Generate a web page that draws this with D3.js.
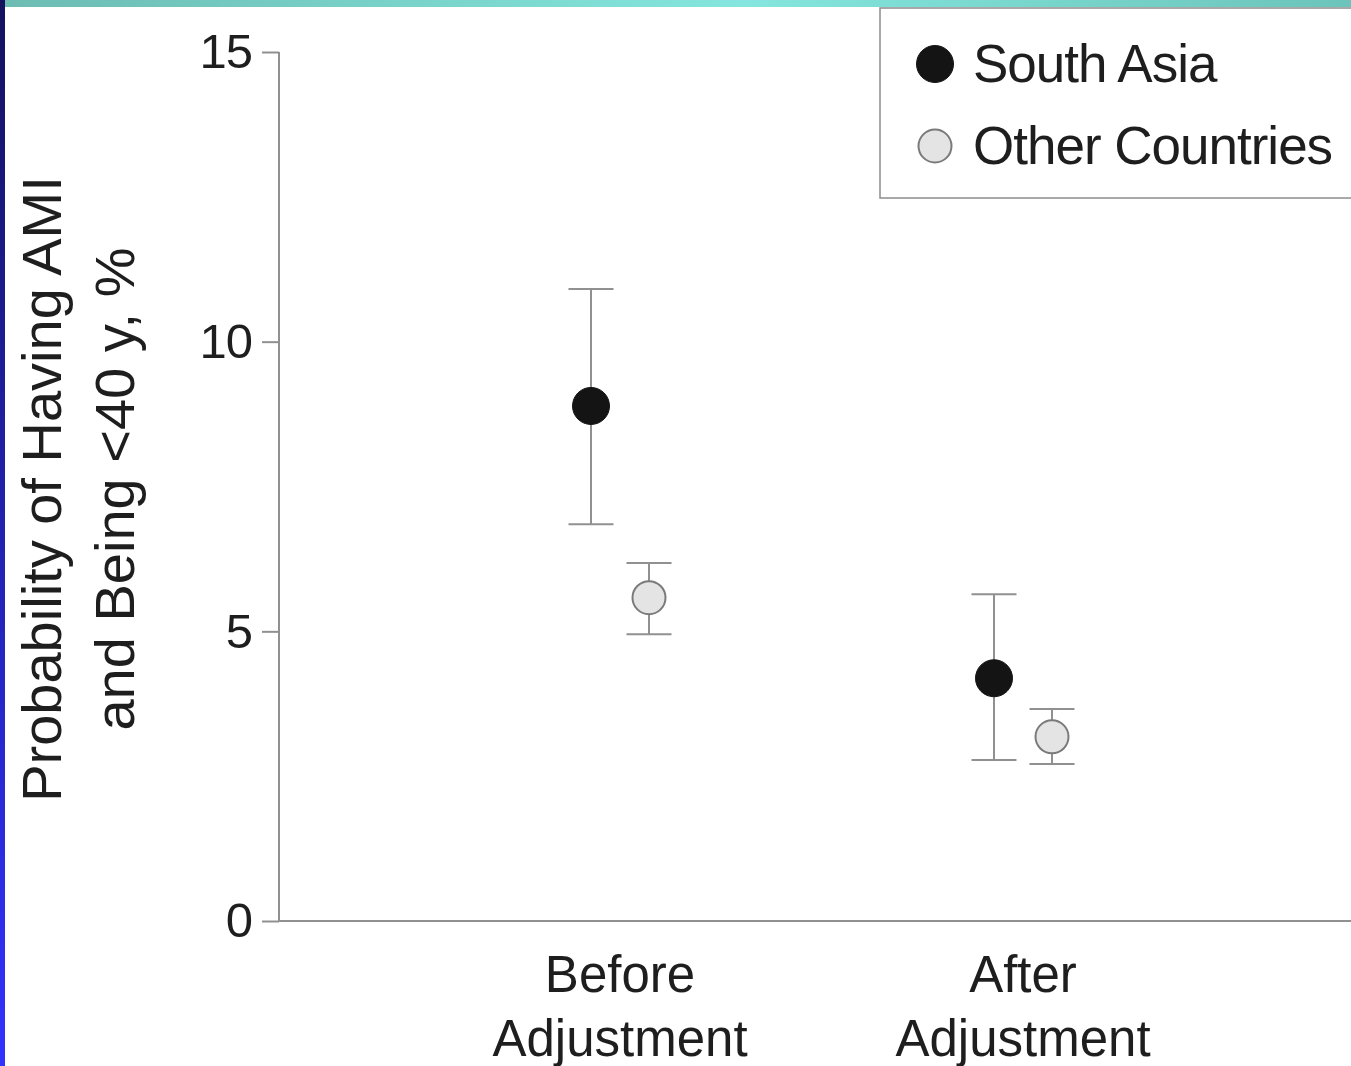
<!DOCTYPE html>
<html>
<head>
<meta charset="utf-8">
<script src="https://cdn.jsdelivr.net/npm/d3@7"></script>
<style>
  html, body { margin: 0; padding: 0; background: #fff; }
  svg { display: block; }
  text { font-family: "Liberation Sans", Arial, Helvetica, sans-serif; fill: #1e1e1e; }
</style>
</head>
<body>
<svg id="chart" width="1351" height="1066"></svg>
<script>
// Groups on the x axis
const categories = ["Before Adjustment", "After Adjustment"];
const categoryLines = [["Before", "Adjustment"], ["After", "Adjustment"]];
// Series
const seriesNames = ["South Asia", "Other Countries"];
// Point estimates (%) per category, one array per series
const southAsiaValues = [8.89, 4.19];
const otherValues = [5.58, 3.18];
// 95% interval bounds
const southAsiaLower = [6.85, 2.78];
const southAsiaUpper = [10.91, 5.64];
const otherLower = [4.95, 2.71];
const otherUpper = [6.18, 3.66];
// Y axis ticks
const yTicks = [0, 5, 10, 15];

const svg = d3.select("#chart");
const W = 1351, H = 1066;

// Decorative frame strips
const defs = svg.append("defs");
const topGrad = defs.append("linearGradient").attr("id", "topGrad")
  .attr("x1", "0%").attr("x2", "100%").attr("y1", "0%").attr("y2", "0%");
topGrad.append("stop").attr("offset", "0%").attr("stop-color", "#6cbcb2");
topGrad.append("stop").attr("offset", "55%").attr("stop-color", "#84e6de");
topGrad.append("stop").attr("offset", "100%").attr("stop-color", "#6cc4ba");
const leftGrad = defs.append("linearGradient").attr("id", "leftGrad")
  .attr("x1", "0%").attr("x2", "0%").attr("y1", "0%").attr("y2", "100%");
leftGrad.append("stop").attr("offset", "0%").attr("stop-color", "#14125e");
leftGrad.append("stop").attr("offset", "50%").attr("stop-color", "#2222b0");
leftGrad.append("stop").attr("offset", "100%").attr("stop-color", "#3232ff");

svg.append("rect").attr("x", 0).attr("y", 0).attr("width", W).attr("height", 7)
  .attr("fill", "url(#topGrad)");
svg.append("rect").attr("x", 0).attr("y", 0).attr("width", 5).attr("height", H)
  .attr("fill", "url(#leftGrad)");

// Scales
const y = d3.scaleLinear().domain([0, 15]).range([921, 52]);
const x = d3.scalePoint().domain(categories).range([620, 1023]);
const offset = d3.scalePoint().domain(seriesNames).range([-29, 29]);
const axisColor = "#909090";

// Y axis
const yAxis = svg.append("g").attr("transform", "translate(279,0)")
  .call(d3.axisLeft(y).tickValues(yTicks).tickSize(17).tickPadding(10).tickFormat(d3.format("d")));
yAxis.select(".domain").attr("stroke", axisColor).attr("stroke-width", 2)
  .attr("d", `M0,${y(15)}V${y(0)}`);
yAxis.selectAll(".tick line").attr("stroke", axisColor).attr("stroke-width", 2);
yAxis.selectAll(".tick text").attr("font-size", 49).attr("fill", "#1e1e1e")
  .attr("font-family", "Liberation Sans, Arial, sans-serif").attr("letter-spacing", "-1px");

// X axis baseline
svg.append("line").attr("x1", 279).attr("x2", W).attr("y1", y(0)).attr("y2", y(0))
  .attr("stroke", axisColor).attr("stroke-width", 2);

// Category labels
categories.forEach((c, i) => {
  const t = svg.append("text").attr("x", x(c)).attr("text-anchor", "middle")
    .attr("font-size", 51);
  t.append("tspan").attr("x", x(c)).attr("y", 992).text(categoryLines[i][0]);
  t.append("tspan").attr("x", x(c)).attr("y", 1056).text(categoryLines[i][1]);
});

// Y axis title
const title = svg.append("text").attr("transform", "translate(0,489) rotate(-90)")
  .attr("text-anchor", "middle").attr("font-size", 56);
title.append("tspan").attr("x", 0).attr("y", 61).text("Probability of Having AMI");
title.append("tspan").attr("x", 0).attr("y", 134).text("and Being <40 y, %");

// Series data
const series = [
  { name: "South Asia", values: southAsiaValues, lo: southAsiaLower, hi: southAsiaUpper,
    fill: "#141414", stroke: "#141414", r: 18.5, sw: 1, legendR: 18.5 },
  { name: "Other Countries", values: otherValues, lo: otherLower, hi: otherUpper,
    fill: "#e4e4e4", stroke: "#7a7a7a", r: 16.5, sw: 2, legendR: 16.5 }
];

const capHalf = 22.5;
series.forEach(s => {
  const g = svg.append("g");
  categories.forEach((c, i) => {
    const cx = x(c) + offset(s.name);
    g.append("line").attr("x1", cx).attr("x2", cx).attr("y1", y(s.hi[i])).attr("y2", y(s.lo[i]))
      .attr("stroke", axisColor).attr("stroke-width", 2);
    [s.hi[i], s.lo[i]].forEach(v => {
      g.append("line").attr("x1", cx - capHalf).attr("x2", cx + capHalf)
        .attr("y1", y(v)).attr("y2", y(v)).attr("stroke", axisColor).attr("stroke-width", 2);
    });
    g.append("circle").attr("cx", cx).attr("cy", y(s.values[i])).attr("r", s.r)
      .attr("fill", s.fill).attr("stroke", s.stroke).attr("stroke-width", s.sw);
  });
});

// Legend
const legend = svg.append("g");
legend.append("rect").attr("x", 880).attr("y", 8).attr("width", 500).attr("height", 190)
  .attr("fill", "#fff").attr("stroke", "#8c8c8c").attr("stroke-width", 1.5);
const legendRows = [64, 146];
series.forEach((s, i) => {
  legend.append("circle").attr("cx", 935).attr("cy", legendRows[i]).attr("r", s.legendR)
    .attr("fill", s.fill).attr("stroke", s.stroke).attr("stroke-width", s.sw);
  legend.append("text").attr("x", 973).attr("y", legendRows[i] + 18)
    .attr("font-size", 53).attr("letter-spacing", "-1px").text(s.name);
});
</script>
</body>
</html>
